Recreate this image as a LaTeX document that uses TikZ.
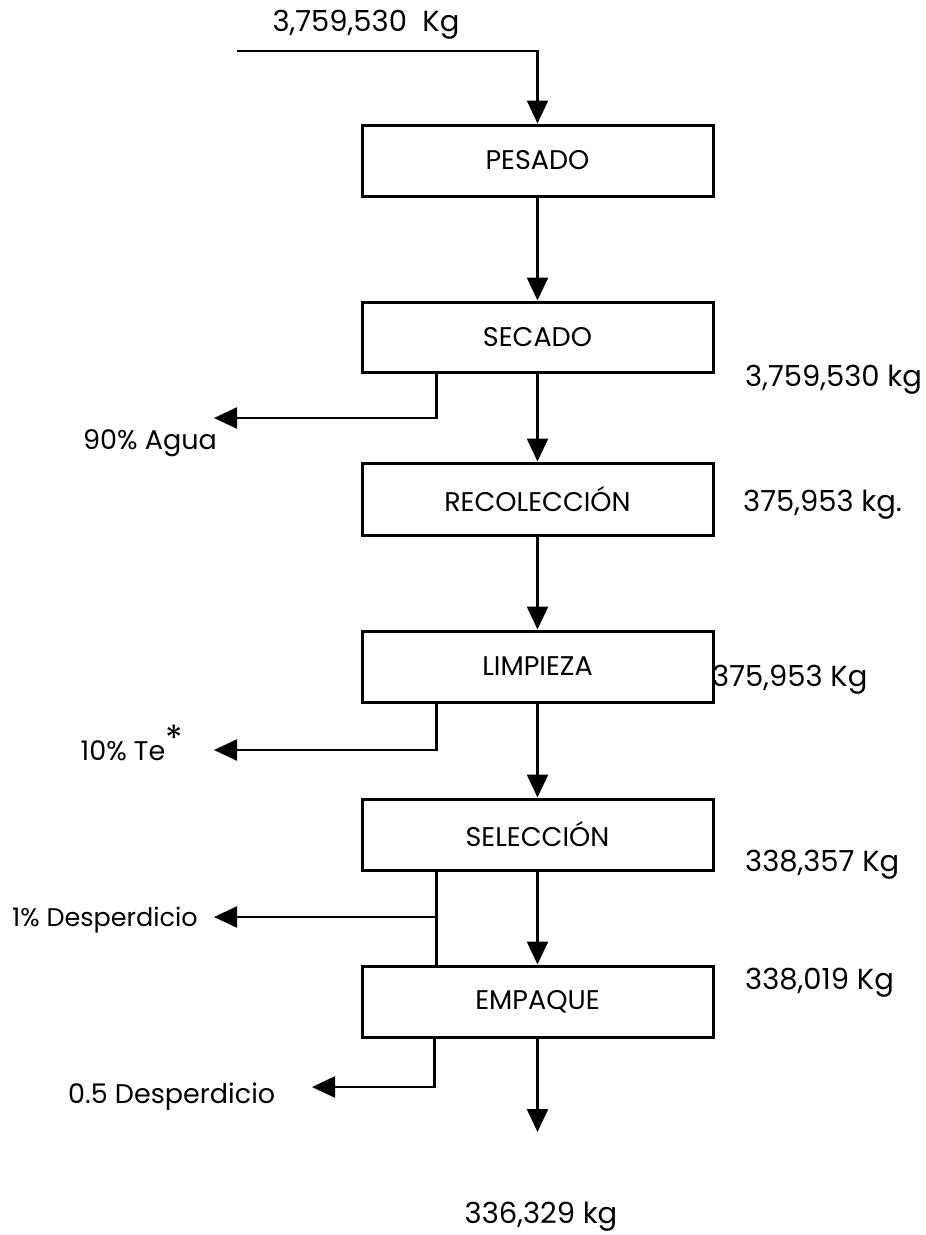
\documentclass[tikz,border=0pt]{standalone}
\usepackage{fontspec}
\setmainfont{Poppins}
\usetikzlibrary{arrows.meta}
\tikzset{
  procbox/.style={draw, line width=3pt, minimum width=351pt, minimum height=71pt, inner sep=0pt, font=\fontsize{27}{32}\selectfont},
  arr/.style={line width=2.4pt, -{Triangle[length=23pt,width=21pt]}},
  ln/.style={line width=2.4pt},
  lbl/.style={inner sep=0pt, font=\fontsize{27}{32}\selectfont},
  numlbl/.style={inner sep=0pt, font=\fontsize{29}{34}\selectfont}
}
\begin{document}
\begin{tikzpicture}[x=1pt,y=-1pt]
\useasboundingbox[fill=white] (0,0) rectangle (926,1235);
% process boxes
\node[procbox] (pesado) at (537.5,160.5) {PESADO};
\node[procbox, minimum height=70pt] (secado) at (537.5,337) {SECADO};
\node[procbox, minimum height=72pt] (recol) at (537.5,499) {RECOLECCIÓN};
\node[procbox] (limp) at (537.5,666.5) {LIMPIEZA};
\node[procbox] (selec) at (537.5,834.5) {SELECCIÓN};
\node[procbox] (emp) at (537.5,1001.5) {EMPAQUE};
% free ends
\coordinate (in) at (237,51);
\coordinate (out) at (537.5,1132);
\coordinate (agua) at (214,418);
\coordinate (te) at (214,750);
\coordinate (j1) at (438,917);
\coordinate (d1) at (214,917);
\coordinate (d2) at (312,1087);
% main flow
\draw[arr] (in) -| (pesado.north);
\draw[arr] (pesado) -- (secado);
\draw[arr] (secado) -- (recol);
\draw[arr] (recol) -- (limp);
\draw[arr] (limp) -- (selec);
\draw[arr] (selec) -- (emp);
\draw[arr] (emp) -- (out);
% side streams
\draw[arr] ([xshift=76pt]secado.south west) |- (agua);
\draw[arr] ([xshift=76pt]limp.south west) |- (te);
\draw[ln] ([xshift=76pt]selec.south west) -- ([xshift=76pt]emp.north west);
\draw[arr] (j1) -- (d1);
\draw[arr] ([xshift=74pt]emp.south west) |- (d2);
% labels
\node[numlbl] (l0) at (366,25) {3,759,530\ \ Kg};
\node[numlbl, anchor=west] (l1) at (745,380) {3,759,530 kg};
\node[lbl] (l2) at (150,443) {90\% Agua};
\node[numlbl, anchor=west] (l3) at (743,505) {375,953 kg.};
\node[numlbl, anchor=west] (l4) at (712,680) {375,953 Kg};
\node[lbl] (l5) at (132,743) {10\% Te\textsuperscript{\fontsize{36}{36}\selectfont *}};
\node[numlbl, anchor=west] (l6) at (745,865) {338,357 Kg};
\node[lbl, anchor=west, font=\fontsize{25.5}{30}\selectfont] (l7) at (12,920) {1\% Desperdicio};
\node[numlbl, anchor=west] (l8) at (745,983) {338,019 Kg};
\node[lbl, anchor=west] (l9) at (68,1097) {0.5 Desperdicio};
\node[numlbl] (l10) at (541,1217) {336,329 kg};
\end{tikzpicture}
\end{document}
